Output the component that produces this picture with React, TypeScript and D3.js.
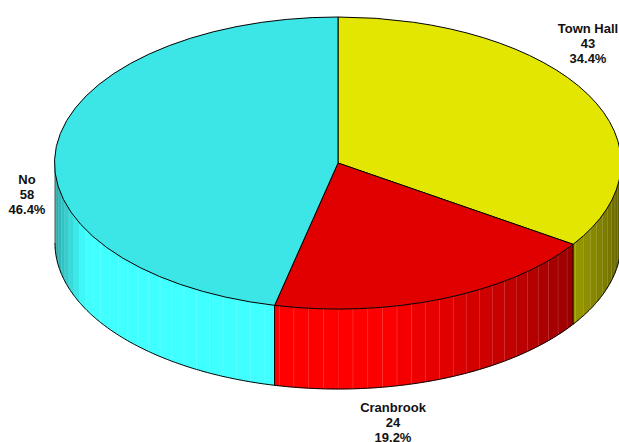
import React from "react";
import * as d3 from "d3";

const categories = ["Town Hall", "Cranbrook", "No"];
const counts = [43, 24, 58];
const topColors = ["#e2e600", "#e00000", "#3ce6e6"];
const sideColors = ["#ffff00", "#ff0000", "#40ffff"];

const width = 619;
const height = 442;
const cx = 338;
const cy = 163;
const rx = 283;
const ry = 146;
const depth = 80;
const stepDeg = 3;

const labelSpots = [
  { x: 588, y: 33 },
  { x: 393, y: 412 },
  { x: 27, y: 184 },
];

// shading of the rim, by angle clockwise from the top of the pie
const shade = d3
  .scaleLinear()
  .domain([90, 124, 150, 172, 243, 251, 258, 270])
  .range([0.33, 0.6, 0.82, 1, 1, 0.85, 0.74, 0.6])
  .clamp(true);

const px = (deg: number) => cx + rx * Math.sin((deg * Math.PI) / 180);
const py = (deg: number) => cy - ry * Math.cos((deg * Math.PI) / 180);

const App = () => {
  const pie = d3.pie<number>().sort(null).value((d) => d);
  const slices = pie(counts);
  const total = d3.sum(counts);
  const arc = d3.arc<d3.PieArcDatum<number>>().innerRadius(0).outerRadius(1);
  const line = d3.line();

  const strips: { d: string; fill: string; seam: string }[] = [];
  slices.forEach((s, i) => {
    const from = Math.max((s.startAngle * 180) / Math.PI, 90);
    const to = Math.min((s.endAngle * 180) / Math.PI, 270);
    if (to <= from) return;
    const first = Math.ceil(from / stepDeg) * stepDeg;
    const cuts = [from, ...d3.range(first === from ? first + stepDeg : first, to, stepDeg), to];
    d3.pairs(cuts).forEach(([a, b]) => {
      const mid = (a + b) / 2;
      const angles = [...d3.range(a, b, 0.5), b];
      const pts: [number, number][] = [
        ...angles.map((t) => [px(t), py(t)] as [number, number]),
        ...angles.slice().reverse().map((t) => [px(t), py(t) + depth] as [number, number]),
      ];
      const c = d3.rgb(sideColors[i]);
      const k = shade(mid);
      const fill = d3.rgb(c.r * k, c.g * k, c.b * k).formatHex();
      const seam = `M${px(b)},${py(b)}V${py(b) + depth}`;
      strips.push({ d: line(pts) + "Z", fill, seam });
    });
  });

  const bottomEdge = line(
    d3.range(90, 270.5, 0.5).map((t) => [px(t), py(t) + depth] as [number, number])
  );
  const joints = slices
    .map((s) => (s.endAngle * 180) / Math.PI)
    .filter((a) => a > 90 && a < 270)
    .concat([270]);

  return (
    <svg
      width={width}
      height={height}
      style={{ position: "absolute", left: 0, top: 0, background: "#fff" }}
    >
      {strips.map((s, i) => (
        <g key={i}>
          <path d={s.d} fill={s.fill} stroke={s.fill} strokeWidth={0.4} />
          <path d={s.seam} stroke="#fff" strokeOpacity={0.25} strokeWidth={1} fill="none" />
        </g>
      ))}
      <path d={bottomEdge ?? ""} fill="none" stroke="#000" strokeWidth={1} />
      {joints.map((a, i) => (
        <line key={i} x1={px(a)} x2={px(a)} y1={py(a)} y2={py(a) + depth} stroke="#000" strokeWidth={a === 270 ? 0.5 : 1} />
      ))}
      <g transform={`translate(${cx},${cy}) scale(${rx},${ry})`}>
        {slices.map((s, i) => (
          <path
            key={i}
            d={arc(s) ?? ""}
            fill={topColors[i]}
            stroke="#000"
            strokeWidth={1}
            vectorEffect="non-scaling-stroke"
          />
        ))}
      </g>
      <g fontFamily="'Liberation Sans', Arial, sans-serif" fontWeight="bold" fontSize={13} textAnchor="middle" fill="#111">
        {categories.map((name, i) => (
          <text key={name} x={labelSpots[i].x} y={labelSpots[i].y}>
            <tspan x={labelSpots[i].x}>{name}</tspan>
            <tspan x={labelSpots[i].x} dy={15.2}>{counts[i]}</tspan>
            <tspan x={labelSpots[i].x} dy={15.2}>{d3.format(".1%")(counts[i] / total)}</tspan>
          </text>
        ))}
      </g>
    </svg>
  );
};

export default App;
